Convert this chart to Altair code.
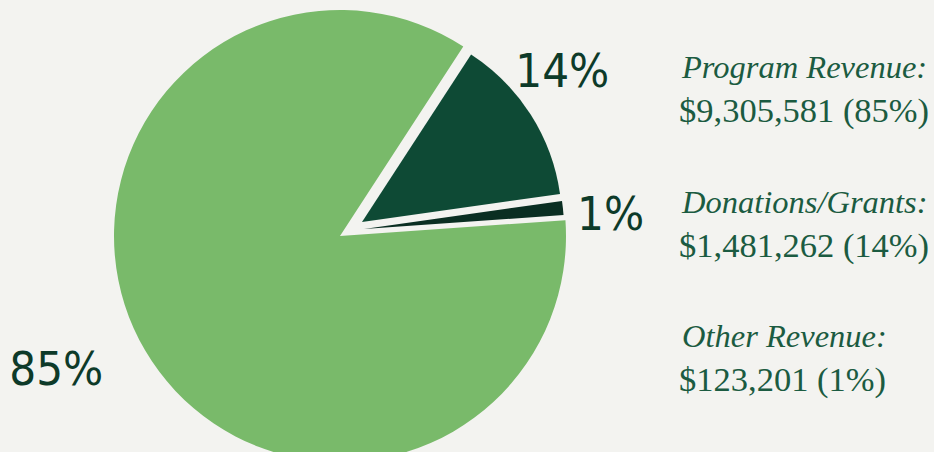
import math
import altair as alt
import pandas as pd

# ---- data ----
categories = ["Program Revenue", "Donations/Grants", "Other Revenue"]
amounts = [9305581, 1481262, 123201]
pct_labels = ["85%", "14%", "1%"]

total = sum(amounts)
amount_labels = [f"${a:,} ({p})" for a, p in zip(amounts, pct_labels)]
legend_labels = [c + ":" for c in categories]

df = pd.DataFrame({
    "category": categories,
    "amount": amounts,
    "order": [0, 1, 2],
    "pct": pct_labels,
    "legend": legend_labels,
    "amount_label": amount_labels,
})

# ---- styles / layout ----
W, H = 934, 452
BG = "#f3f3f0"
slice_colors = {"Program Revenue": "#79ba6a", "Donations/Grants": "#0e4a35", "Other Revenue": "#0a2e22"}
CX, CY = 340, 236
explode = {"Program Revenue": (0, 0), "Donations/Grants": (22, -14), "Other Revenue": (24, -7)}
radii = {"Program Revenue": 226, "Donations/Grants": 200, "Other Revenue": 200}
start_deg = 86
start = math.radians(start_deg)
theta_scale = alt.Scale(domain=[0, total], range=[start, start + 2 * math.pi])

HAND_FONT = "DejaVu Sans Condensed, Liberation Sans Narrow, Liberation Sans"
HAND_COLOR = "#0d3a29"
TEXT_COLOR = "#1b5b41"

base = (
    alt.Chart(df)
    .transform_window(end="sum(amount)", sort=[alt.SortField("order")], frame=[None, 0])
    .transform_calculate(start="datum.end - datum.amount", mid="datum.end - datum.amount / 2")
)

layers = []
for cat in categories:
    ox, oy = explode[cat]
    layers.append(
        base.transform_filter(alt.datum.category == cat)
        .mark_arc(radius=radii[cat], color=slice_colors[cat])
        .encode(
            theta=alt.Theta("start:Q", scale=theta_scale),
            theta2="end:Q",
            x=alt.value(CX + ox),
            y=alt.value(CY + oy),
        )
    )

label_style = {
    "Program Revenue": dict(r=313, dx=-14, dy=-24),
    "Donations/Grants": dict(r=247, dx=-8, dy=-16),
    "Other Revenue": dict(r=245, dx=3, dy=13),
}
for cat in categories:
    ox, oy = explode[cat]
    s = label_style[cat]
    layers.append(
        base.transform_filter(alt.datum.category == cat)
        .mark_text(font=HAND_FONT, fontSize=47, color=HAND_COLOR, dx=s["dx"], dy=s["dy"],
                   align="center", baseline="middle")
        .encode(
            theta=alt.Theta("mid:Q", scale=theta_scale),
            radius=alt.value(s["r"]),
            x=alt.value(CX + ox),
            y=alt.value(CY + oy),
            text="pct:N",
        )
    )

legend_y = alt.Y("category:N", scale=alt.Scale(type="point", domain=categories, range=[78, 347], padding=0), axis=None)
layers.append(
    alt.Chart(df)
    .mark_text(align="left", baseline="alphabetic", font="Liberation Serif", fontStyle="italic",
               fontSize=32.5, color=TEXT_COLOR)
    .encode(x=alt.value(682), y=legend_y, text="legend:N")
)
layers.append(
    alt.Chart(df)
    .mark_text(align="left", baseline="alphabetic", font="Liberation Serif",
               fontSize=34.5, color=TEXT_COLOR, dy=44)
    .encode(x=alt.value(679), y=legend_y, text="amount_label:N")
)

chart = (
    alt.layer(*layers)
    .properties(width=W, height=H, background=BG, padding=0,
                autosize=alt.AutoSizeParams(type="none"))
    .configure_view(stroke=None)
)

chart.save("out.html", embed_options={"renderer": "svg", "actions": False})
